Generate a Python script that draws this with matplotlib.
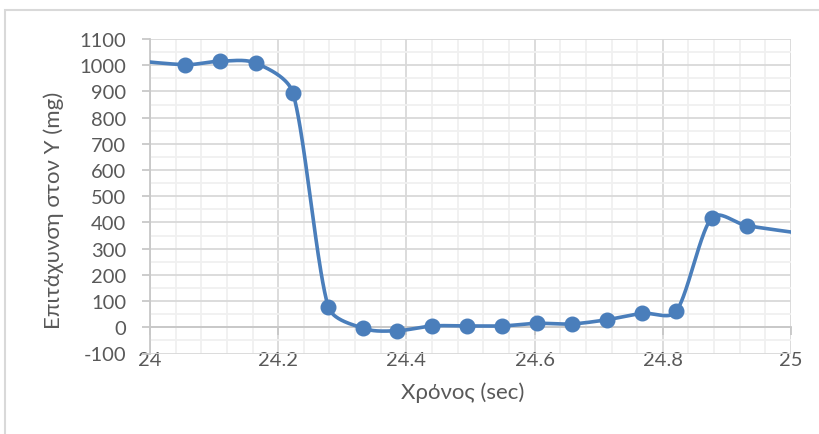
import numpy as np
import matplotlib
matplotlib.use("Agg")
import matplotlib.pyplot as plt
from matplotlib.ticker import MultipleLocator, FixedLocator
from matplotlib.patches import Rectangle

plt.rcParams['font.family'] = ['Lato', 'Noto Sans', 'DejaVu Sans']
plt.rcParams['axes.unicode_minus'] = False

# data (time in sec, acceleration in mg)
time_s = [23.945, 24.055, 24.109, 24.166, 24.223, 24.278, 24.333, 24.386, 24.440,
          24.495, 24.549, 24.603, 24.658, 24.713, 24.768, 24.821, 24.876,
          24.931, 25.04]
accel_mg = [1025, 1002, 1015, 1007, 894, 79, -4, -13, 5,
            5, 5, 15, 13, 29, 53, 61, 417,
            388, 350]

x_label = "Χρόνος (sec)"
y_label = "Επιτάχυνση στον Υ (mg)"
x_ticks = [24, 24.2, 24.4, 24.6, 24.8, 25]
x_tick_labels = ["24", "24.2", "24.4", "24.6", "24.8", "25"]
y_ticks = list(range(-100, 1101, 100))

BLUE = "#4a7ebb"
TXT = "#595959"


def smooth_display(ax, xs, ys, n=40):
    """Excel-like smoothed line, computed in display space: Bezier segments whose
    tangents follow neighbouring points, handle length limited by the segment length."""
    pts = ax.transData.transform(np.column_stack([xs, ys]).astype(float))
    m = len(pts)
    out = []
    for i in range(m - 1):
        p0 = pts[i - 1] if i > 0 else pts[i]
        p1 = pts[i]
        p2 = pts[i + 1]
        p3 = pts[i + 2] if i + 2 < m else pts[i + 1]
        L = np.linalg.norm(p2 - p1)
        d1 = p2 - p0
        d2 = p3 - p1
        n1 = np.linalg.norm(d1) or 1
        n2 = np.linalg.norm(d2) or 1
        c1 = p1 + d1 / n1 * min(n1 / 6.0, L / 3.0)
        c2 = p2 - d2 / n2 * min(n2 / 6.0, L / 3.0)
        t = np.linspace(0, 1, n)[:, None]
        seg = ((1 - t) ** 3) * p1 + 3 * ((1 - t) ** 2) * t * c1 + 3 * (1 - t) * t ** 2 * c2 + t ** 3 * p2
        out.append(seg if i == 0 else seg[1:])
    s = ax.transData.inverted().transform(np.vstack(out))
    return s[:, 0], s[:, 1]


fig = plt.figure(figsize=(8.2, 4.35), dpi=100)
W, H = 820, 435
fig.add_artist(Rectangle((5 / W, -0.1), 1.2, (H - 11) / H + 0.1, transform=fig.transFigure,
                         fill=False, edgecolor="#d9d9d9", linewidth=1.5))

left, right, top, bottom = 150, 791, 40, 354.5
ax = fig.add_axes([left / W, (H - bottom) / H, (right - left) / W, (bottom - top) / H])
ax.set_xlim(24, 25)
ax.set_ylim(-100, 1100)

sx, sy = smooth_display(ax, time_s, accel_mg)
ax.plot(sx, sy, color=BLUE, linewidth=2.6, solid_capstyle='round', zorder=3)
xs = np.array(time_s)
ys = np.array(accel_mg)
inside = (xs > 24) & (xs < 25)
ax.plot(xs[inside], ys[inside], linestyle='none', marker='o', markersize=10.5,
        markerfacecolor=BLUE, markeredgecolor=BLUE, zorder=4)

ax.set_xlim(24, 25)
ax.set_ylim(-100, 1100)
ax.xaxis.set_major_locator(FixedLocator(x_ticks))
ax.set_xticklabels(x_tick_labels)
ax.xaxis.set_minor_locator(MultipleLocator(0.04))
ax.set_yticks(y_ticks)
ax.yaxis.set_minor_locator(MultipleLocator(50))

ax.grid(which='major', color='#d9d9d9', linewidth=1.3, zorder=0)
ax.grid(which='minor', color='#f0f0f0', linewidth=1.3, zorder=0)
ax.set_axisbelow(True)

for s in ['top', 'right']:
    ax.spines[s].set_visible(False)
ax.spines['left'].set_color('#c8c8c8')
ax.spines['left'].set_linewidth(1.3)
ax.spines['bottom'].set_position(('data', 0))
ax.spines['bottom'].set_color('#c8c8c8')
ax.spines['bottom'].set_linewidth(1.3)

ax.tick_params(axis='x', which='major', direction='out', length=6, width=1.3, color='#c8c8c8',
               pad=11, labelsize=14.5, labelcolor=TXT)
ax.tick_params(axis='y', which='major', direction='out', length=6, width=1.3, color='#c8c8c8',
               pad=11, labelsize=14.5, labelcolor=TXT)
ax.tick_params(which='minor', length=0)

ax.set_xlabel(x_label, fontsize=16, color=TXT)
ax.xaxis.set_label_coords((463 - left) / (right - left), (bottom - 382) / (bottom - top))
ax.set_ylabel(y_label, fontsize=16, color=TXT, va='center')
ax.yaxis.set_label_coords((54 - left) / (right - left), (bottom - 210) / (bottom - top))

fig.savefig("out.png", dpi=100)
